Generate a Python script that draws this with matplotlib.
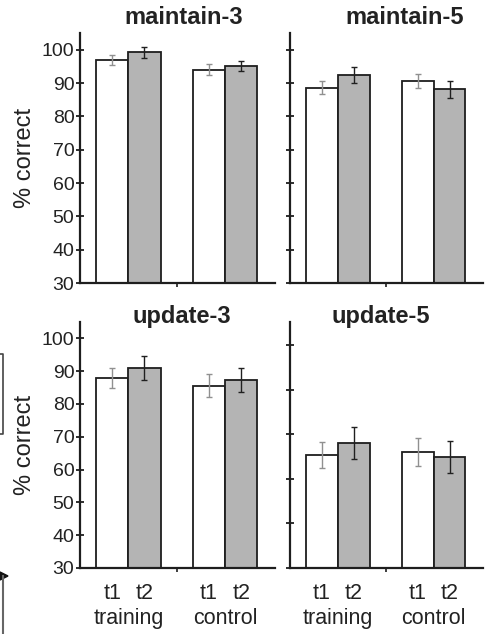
import matplotlib
matplotlib.use("Agg")
import matplotlib.pyplot as plt
from matplotlib.lines import Line2D
from matplotlib.patches import Polygon

plt.rcParams['font.family'] = ['Liberation Sans', 'DejaVu Sans']

titles = ["maintain-3", "maintain-5", "update-3", "update-5"]
groups = ["training", "control"]
sessions = ["t1", "t2"]
# values per panel: [training t1, training t2, control t1, control t2]
means = {
    "maintain-3": [97.0, 99.2, 94.0, 95.1],
    "maintain-5": [88.6, 92.4, 90.6, 88.1],
    "update-3": [87.9, 90.9, 85.6, 87.3],
    "update-5": [64.5, 68.1, 65.4, 63.9],
}
errors = {
    "maintain-3": [1.5, 1.7, 1.6, 1.6],
    "maintain-5": [2.0, 2.5, 2.0, 2.6],
    "update-3": [3.1, 3.6, 3.4, 3.6],
    "update-5": [3.9, 4.8, 4.3, 4.8],
}
yticks_left = [30, 40, 50, 60, 70, 80, 90, 100]
yticks_update5 = [30, 43.6, 57.2, 70.8, 84.4, 98.0]

W, H = 486, 634
fig = plt.figure(figsize=(W / 100, H / 100), dpi=100)

def fx(px):
    return px / W

def fy(py):
    return 1 - py / H

boxes = {
    "maintain-3": (80, 275, 33, 283),
    "maintain-5": (290, 483, 33, 283),
    "update-3": (80, 275, 322, 568),
    "update-5": (290, 483, 322, 568),
}
title_pos = {
    "maintain-3": (184, 18),
    "maintain-5": (405, 18),
    "update-3": (182, 317),
    "update-5": (381, 317),
}

xpos = [1, 2, 4, 5]
fills = ["white", "#b4b4b4", "white", "#b4b4b4"]
ecols = ["#909090", "#202020", "#909090", "#202020"]
dark = "#1e1e1e"

for name in titles:
    x0, x1, y0, y1 = boxes[name]
    ax = fig.add_axes([fx(x0), fy(y1), fx(x1) - fx(x0), fy(y0) - fy(y1)])
    ax.set_xlim(0, 6.05)
    ax.set_ylim(30, 105)
    m = means[name]
    e = errors[name]
    ax.bar(xpos, m, width=1.0, bottom=0, color=fills, edgecolor=dark,
           linewidth=1.3, zorder=2)
    for xi, mi, ei, ec in zip(xpos, m, e, ecols):
        ax.errorbar(xi, mi, yerr=ei, fmt='none', ecolor=ec, elinewidth=1.0,
                    capsize=2.5, capthick=1.0, zorder=3)
    for s in ["top", "right"]:
        ax.spines[s].set_visible(False)
    ax.spines["left"].set_linewidth(1.6)
    ax.spines["bottom"].set_linewidth(1.6)
    ax.spines["left"].set_color(dark)
    ax.spines["bottom"].set_color(dark)
    left = name in ("maintain-3", "update-3")
    if name == "update-5":
        ax.set_yticks(yticks_update5)
    else:
        ax.set_yticks(yticks_left)
    ax.tick_params(axis='y', direction='inout', length=6, width=1.3,
                   color=dark, labelsize=14, pad=1, labelcolor="#222222",
                   labelleft=left)
    if left:
        ax.set_ylabel("% correct", fontsize=17, color="#222222", labelpad=4)
    ax.set_xticks(xpos)
    bottom = name in ("update-3", "update-5")
    if bottom:
        ax.set_xticklabels(sessions * 2)
    else:
        ax.set_xticklabels([])
    ax.tick_params(axis='x', length=0, labelsize=15.5, pad=11, labelcolor="#222222")
    ax.set_xticks([3.0], minor=True)
    ax.tick_params(axis='x', which='minor', direction='out', length=3,
                   width=1.2, color=dark)
    if bottom:
        for gi, g in enumerate(groups):
            ax.text((xpos[2 * gi] + xpos[2 * gi + 1]) / 2, -0.205, g,
                    transform=ax.get_xaxis_transform(), ha='center', va='center',
                    fontsize=15.5, color="#222222")
    tx, ty = title_pos[name]
    fig.text(fx(tx), fy(ty), name, ha='center', va='center', fontsize=17,
             fontweight='bold', color="#222222")

# fragments of a neighbouring figure at the left edge
fig.add_artist(Line2D([fx(0), fx(3), fx(3), fx(0)],
                      [fy(354), fy(354), fy(434), fy(434)],
                      color="#444444", linewidth=1.2))
fig.add_artist(Line2D([fx(3), fx(3)], [fy(576), fy(634)],
                      color="#666666", linewidth=1.5))
fig.add_artist(Polygon([[fx(0), fy(572)], [fx(8), fy(576)], [fx(0), fy(580)]],
                       closed=True, color="#111111", transform=fig.transFigure))

fig.savefig("out.png", dpi=100, facecolor="white")
